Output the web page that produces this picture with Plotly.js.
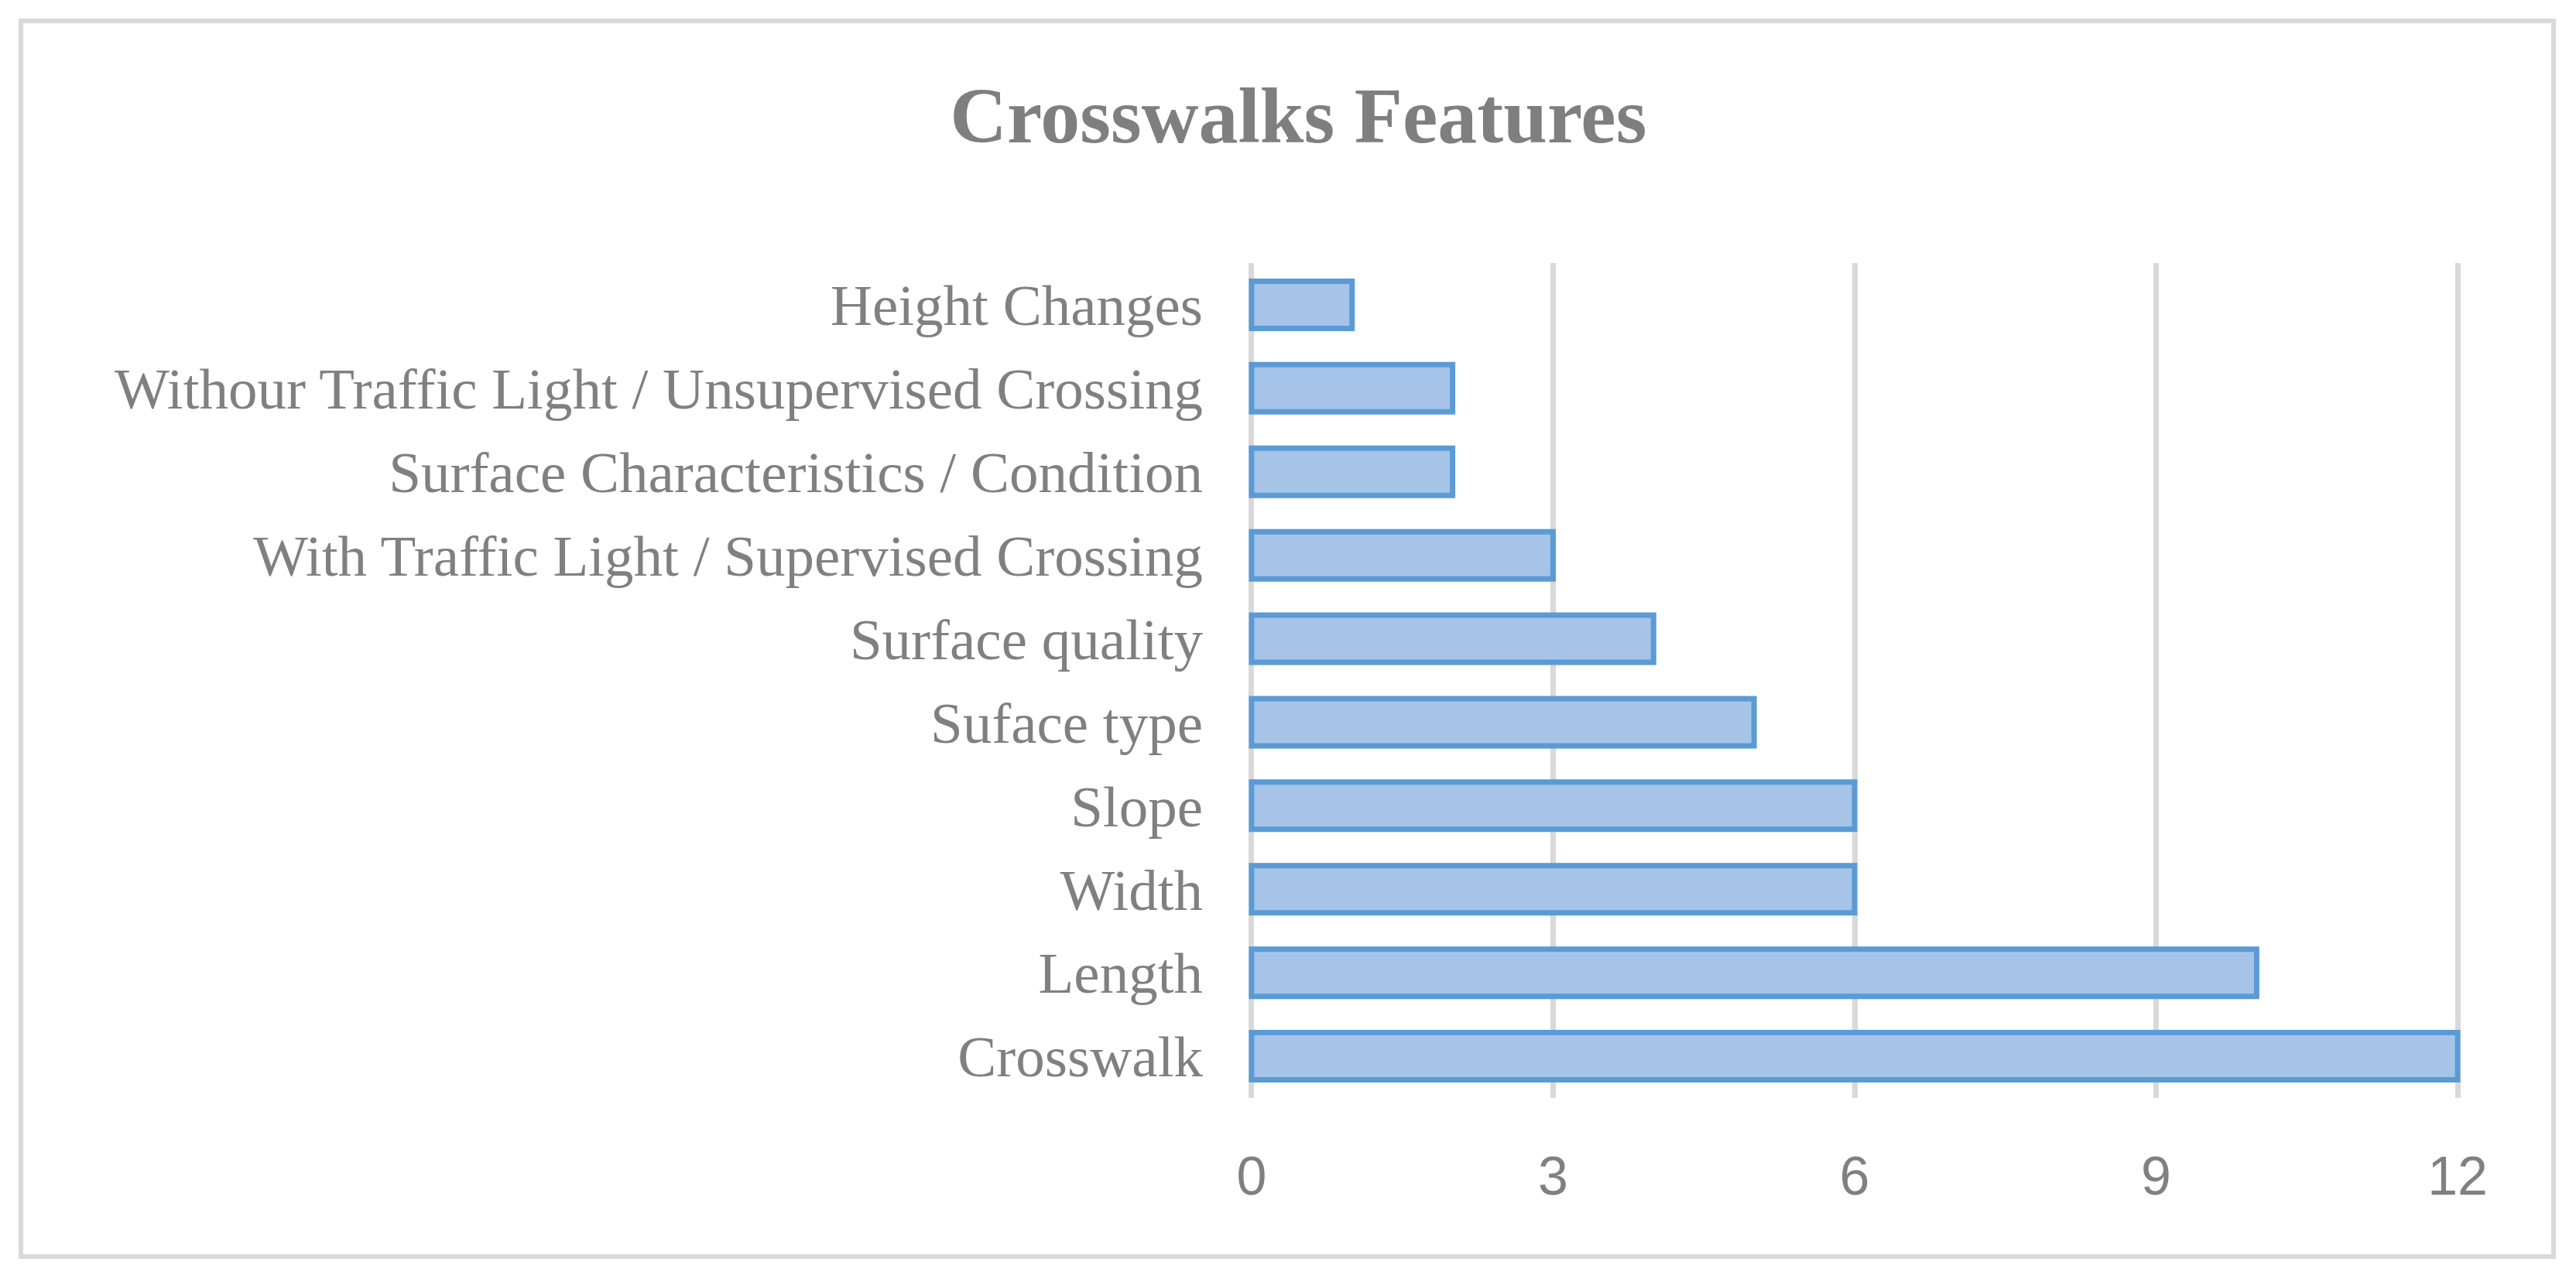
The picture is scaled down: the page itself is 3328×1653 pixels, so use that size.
<!DOCTYPE html>
<html>
<head>
<meta charset="utf-8">
<script src="https://cdn.plot.ly/plotly-3.0.1.min.js"></script>
<style>
  html, body { margin: 0; padding: 0; background: #fff; }
  #chart { width: 3328px; height: 1653px; }
</style>
</head>
<body>
<div id="chart"></div>
<script>
// categories listed bottom -> top (plotly draws first category at the bottom)
let features = [
  "Crosswalk",
  "Length",
  "Width",
  "Slope",
  "Suface type",
  "Surface quality",
  "With Traffic Light / Supervised Crossing",
  "Surface Characteristics / Condition",
  "Withour Traffic Light / Unsupervised Crossing",
  "Height Changes",
];
let counts = [12, 10, 6, 6, 5, 4, 3, 2, 2, 1];
let xTicks = [0, 3, 6, 9, 12];

let W = 3328, H = 1653;
// a little slack on the range so the 0 and 12 gridlines get drawn
let pad = 0.03;
let unit = (3175 - 1617) / 12;
let m = { l: Math.round(1617 - pad * unit), r: Math.round(153 - pad * unit), t: 340, b: 234 };
let pw = W - m.l - m.r;
let ph = H - m.t - m.b;

// outer frame, given in pixels and turned into paper coords
function px2x(p) { return (p - m.l) / pw; }
function py2y(p) { return (H - m.b - p) / ph; }

let data = [
  {
    type: "bar",
    orientation: "h",
    x: counts,
    y: features,
    marker: {
      color: "#a6c4e7",
      line: { color: "#5b9bd5", width: 7 },
    },
    hoverinfo: "x+y",
  },
];

let layout = {
  width: W,
  height: H,
  margin: m,
  paper_bgcolor: "#ffffff",
  plot_bgcolor: "#ffffff",
  showlegend: false,
  bargap: 0.435,
  title: {
    text: "Crosswalks Features",
    font: { family: "Liberation Serif, Times New Roman, serif", size: 102, color: "#7f7f7f", weight: "bold" },
    x: 0.504,
    xanchor: "center",
    xref: "container",
    y: 1 - 148 / H,
    yref: "container",
    yanchor: "middle",
  },
  xaxis: {
    range: [-pad, 12 + pad],
    tickvals: xTicks,
    ticktext: xTicks.map(String),
    showgrid: true,
    gridcolor: "#d9d9d9",
    gridwidth: 7,
    zeroline: false,
    showline: false,
    ticks: "",
    ticklabelstandoff: 54,
    tickfont: { family: "Liberation Sans, Arial, sans-serif", size: 70, color: "#808080" },
    fixedrange: true,
  },
  yaxis: {
    type: "category",
    showgrid: false,
    zeroline: false,
    showline: false,
    ticks: "",
    ticklabelstandoff: 58,
    tickfont: { family: "Liberation Serif, Times New Roman, serif", size: 75, color: "#808080" },
    fixedrange: true,
  },
  shapes: [
    {
      type: "rect",
      xref: "paper",
      yref: "paper",
      x0: px2x(27),
      x1: px2x(3299),
      y0: py2y(27),
      y1: py2y(1624),
      line: { color: "#d9d9d9", width: 6 },
      fillcolor: "rgba(0,0,0,0)",
      layer: "below",
    },
  ],
};

Plotly.newPlot("chart", data, layout, { displayModeBar: false, staticPlot: true });
</script>
</body>
</html>
